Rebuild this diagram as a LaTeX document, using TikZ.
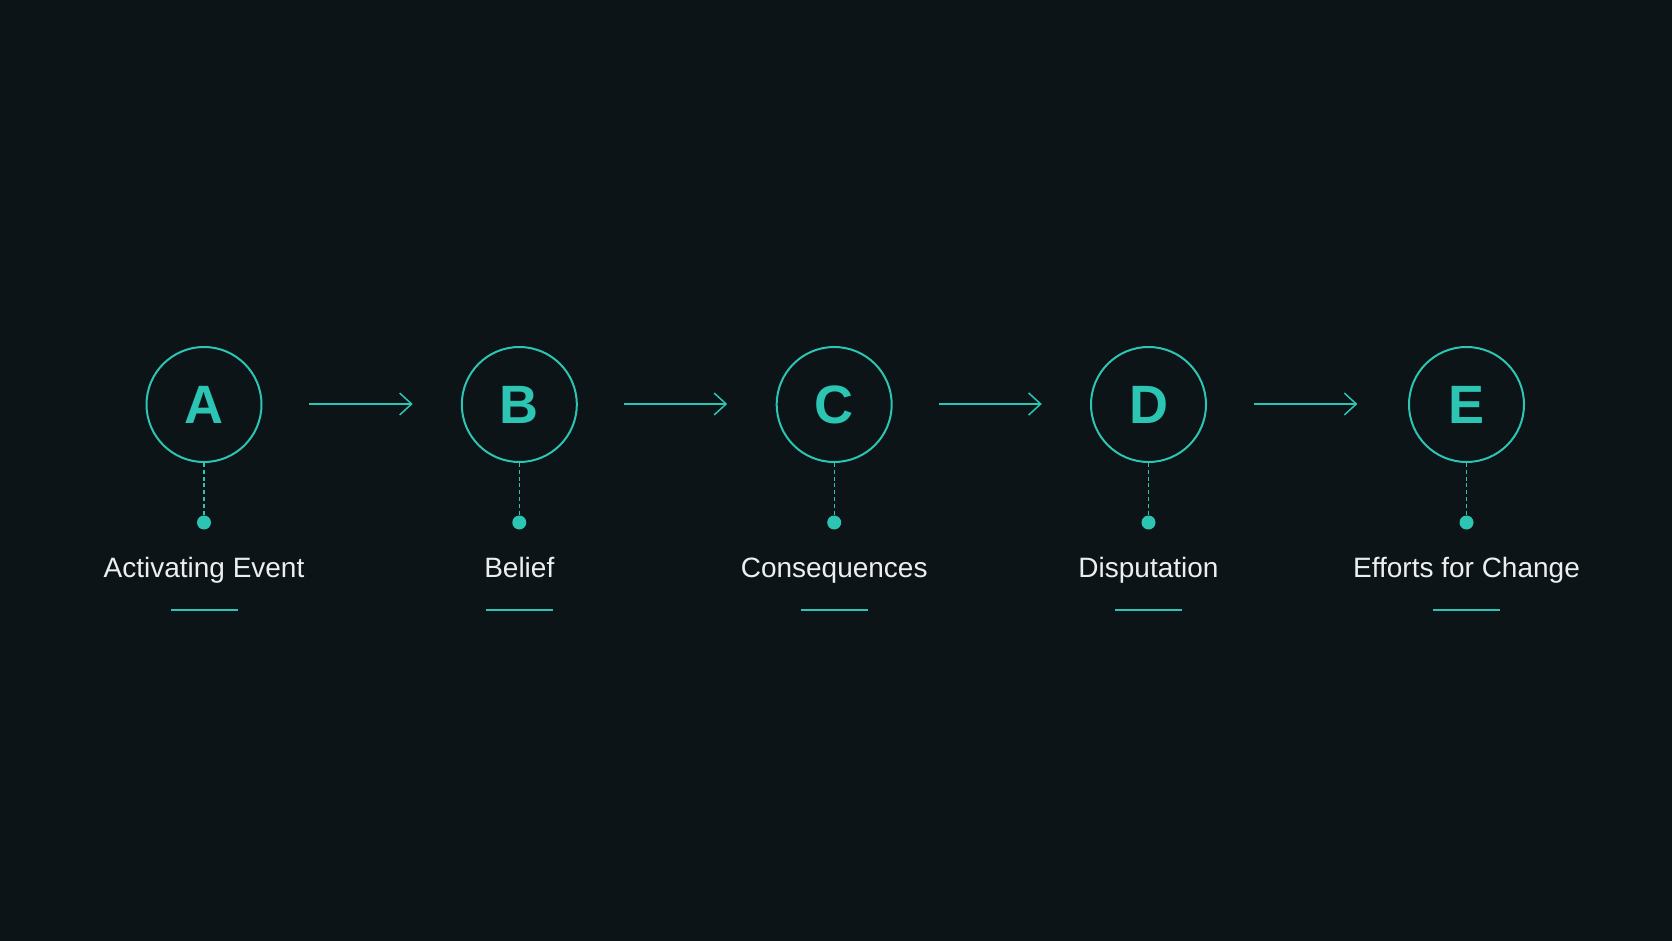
\documentclass[tikz,border=0pt]{standalone}
\usepackage{fontspec}
\setmainfont{Liberation Sans}
\usetikzlibrary{arrows.meta}
\definecolor{bgdark}{HTML}{0C1417}
\definecolor{teal}{HTML}{2CC4B2}
\definecolor{txt}{HTML}{ECEFEF}
\tikzset{
  stage/.style={circle, draw=teal, line width=1pt, minimum size=57.5pt, inner sep=0pt,
    text=teal, font=\fontsize{27}{30}\selectfont\bfseries},
  pin/.style={circle, fill=teal, minimum size=7pt, inner sep=0pt},
  caption/.style={text=txt, font=\fontsize{14}{16}\selectfont, anchor=base, inner sep=0pt},
  link/.style={teal, line width=0.75pt, -{Straight Barb[length=6pt, width=11pt, line width=0.75pt]}},
  stem/.style={teal, line width=0.7pt, dash pattern=on 2pt off 1.4pt},
  rule/.style={teal, line width=1pt}
}
\begin{document}
\begin{tikzpicture}[x=0.5pt, y=-0.5pt]
    \fill[bgdark] (0,0) rectangle (1672,941);
    \useasboundingbox (0,0) rectangle (1672,941);
    % stages
    \node[stage] (A) at (204,404.5) {A};
    \node[stage] (B) at (519.3,404.5) {B};
    \node[stage] (C) at (834.2,404.5) {C};
    \node[stage] (D) at (1148.5,404.5) {D};
    \node[stage] (E) at (1466.5,404.5) {E};
    % arrows between stages
    \coordinate (ABs) at (309.2,404); \coordinate (ABe) at (412.7,404);
    \coordinate (BCs) at (623.8,404); \coordinate (BCe) at (727.2,404);
    \coordinate (CDs) at (939.4,404); \coordinate (CDe) at (1041.8,404);
    \coordinate (DEs) at (1254,404); \coordinate (DEe) at (1357.4,404);
    \draw[link] (ABs) -- (ABe);
    \draw[link] (BCs) -- (BCe);
    \draw[link] (CDs) -- (CDe);
    \draw[link] (DEs) -- (DEe);
    % pins
    \node[pin] (pA) at (204,522.5) {};
    \node[pin] (pB) at (519.3,522.5) {};
    \node[pin] (pC) at (834.2,522.5) {};
    \node[pin] (pD) at (1148.5,522.5) {};
    \node[pin] (pE) at (1466.5,522.5) {};
    \draw[stem] (A.south) -- (pA);
    \draw[stem] (B.south) -- (pB);
    \draw[stem] (C.south) -- (pC);
    \draw[stem] (D.south) -- (pD);
    \draw[stem] (E.south) -- (pE);
    % captions
    \node[caption] (lA) at (204,577) {Activating Event};
    \node[caption] (lB) at (519.3,577) {Belief};
    \node[caption] (lC) at (834.2,577) {Consequences};
    \node[caption] (lD) at (1148.5,577) {Disputation};
    \node[caption] (lE) at (1466.5,577) {Efforts for Change};
    % underlines
    \draw[rule] (170.5,610) -- (237.5,610);
    \draw[rule] (485.8,610) -- (552.8,610);
    \draw[rule] (800.7,610) -- (867.7,610);
    \draw[rule] (1115,610) -- (1182,610);
    \draw[rule] (1433,610) -- (1500,610);
\end{tikzpicture}
\end{document}
